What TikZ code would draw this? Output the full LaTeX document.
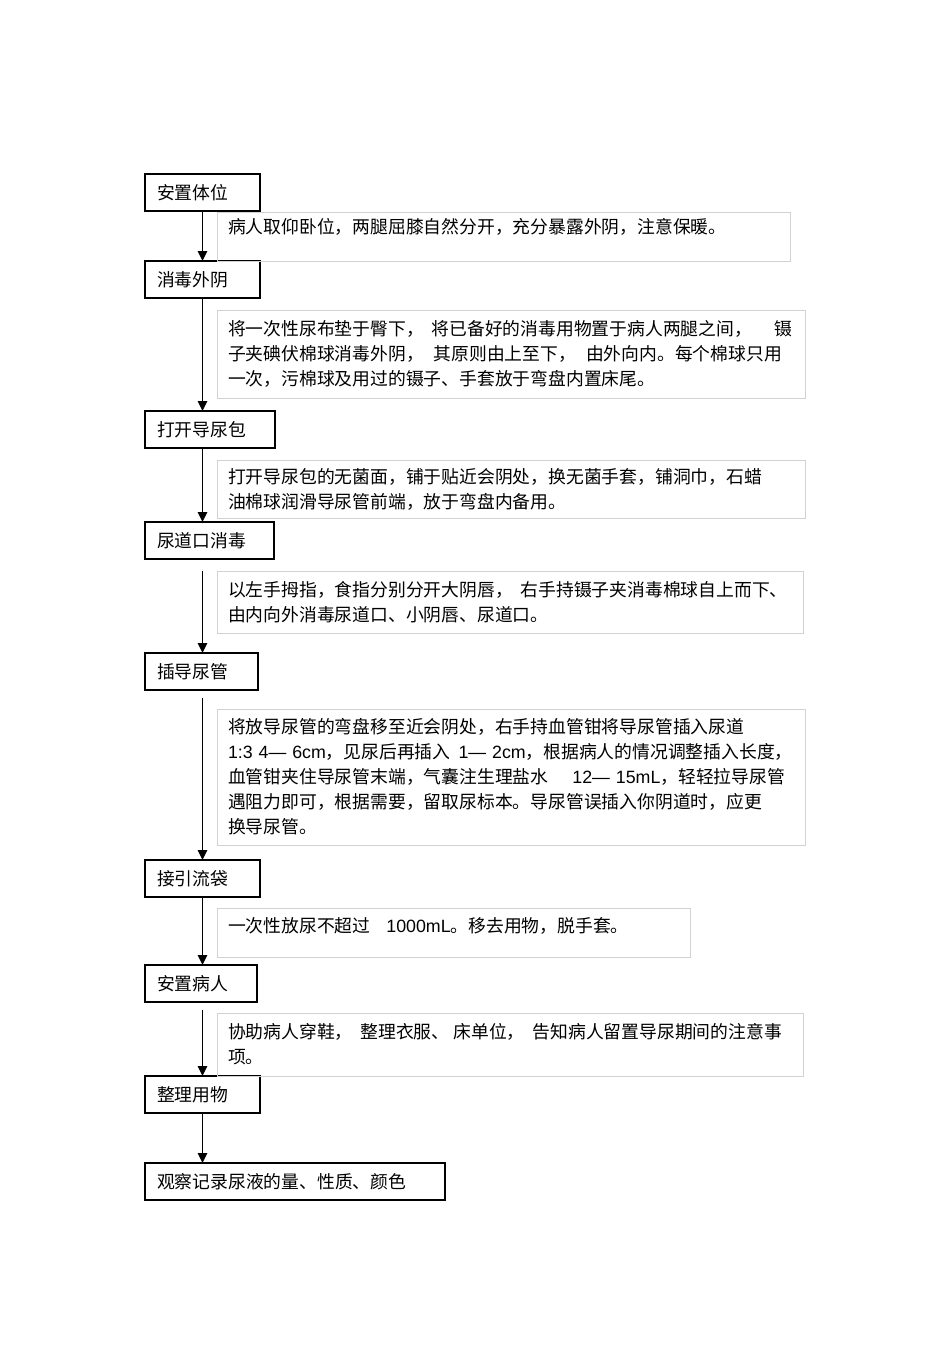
\documentclass[tikz,border=0pt]{standalone}
\usepackage{fontspec}
\setmainfont{Noto Sans CJK SC}
\newfontfamily\latinfont{Liberation Sans}
\newcommand{\lt}[1]{{\latinfont #1}}
\newcommand{\gp}[1]{\hspace*{#1pt}}
\usetikzlibrary{arrows.meta,shadows}

\begin{document}
\begin{tikzpicture}[
    x=1pt, y=-1pt,
    every node/.style={font=\fontsize{17.8}{25}\selectfont, outer sep=0pt},
    stepbox/.style={draw, fill=white, line width=1.2pt, anchor=north west, minimum height=37pt, inner xsep=12pt, text width=#1, align=left},
    boldstep/.style={drop shadow={shadow xshift=1.3pt, shadow yshift=-1.3pt, fill=black, opacity=1}},
    notebox/.style={draw=gray!35, line width=0.8pt, anchor=north west, inner xsep=11pt, text width=#1, align=left},
    flow/.style={-{Triangle[length=10pt, width=9.5pt]}, line width=1.3pt}
]
    \useasboundingbox (0,0) rectangle (950,1345);

    % Steps
    \node[stepbox=91pt, boldstep] (s1) at (145,174) {安置体位};
    \node[stepbox=91pt] (s2) at (145,261) {消毒外阴};
    \node[stepbox=106pt] (s3) at (145,411) {打开导尿包};
    \node[stepbox=105pt] (s4) at (145,522) {尿道口消毒};
    \node[stepbox=89pt] (s5) at (145,653) {插导尿管};
    \node[stepbox=91pt] (s6) at (145,860) {接引流袋};
    \node[stepbox=88pt] (s7) at (145,965) {安置病人};
    \node[stepbox=91pt, boldstep] (s8) at (145,1076) {整理用物};
    \node[stepbox=276pt] (s9) at (145,1163) {观察记录尿液的量、性质、颜色};

    % Notes
    \node[notebox=551pt, minimum height=49pt, text depth=21pt] (n1) at (217,212)
        {病人取仰卧位，两腿屈膝自然分开，充分暴露外阴，注意保暖。};
    \node[notebox=566pt, minimum height=88pt] (n2) at (217,310)
        {将一次性尿布垫于臀下，\gp{8}将已备好的消毒用物置于病人两腿之间，\gp{22}镊\\
         子夹碘伏棉球消毒外阴，\gp{10}其原则由上至下，\gp{10}由外向内。每个棉球只用\\
         一次，污棉球及用过的镊子、手套放于弯盘内置床尾。};
    \node[notebox=566pt, minimum height=58pt] (n3) at (217,460)
        {打开导尿包的无菌面，铺于贴近会阴处，换无菌手套，铺洞巾，石蜡\\
         油棉球润滑导尿管前端，放于弯盘内备用。};
    \node[notebox=564pt, minimum height=62pt] (n4) at (217,571)
        {以左手拇指，食指分别分开大阴唇，\gp{8}右手持镊子夹消毒棉球自上而下、\\
         由内向外消毒尿道口、小阴唇、尿道口。};
    \node[notebox=566pt, minimum height=136pt] (n5) at (217,709)
        {将放导尿管的弯盘移至近会阴处，右手持血管钳将导尿管插入尿道\\
         \lt{1:3 4— 6cm}，见尿后再插入\gp{8}\lt{1— 2cm}，根据病人的情况调整插入长度，\\
         血管钳夹住导尿管末端，气囊注生理盐水\gp{24}\lt{12— 15mL}，轻轻拉导尿管\\
         遇阻力即可，根据需要，留取尿标本。导尿管误插入你阴道时，应更\\
         换导尿管。};
    \node[notebox=451pt, minimum height=49pt, text depth=15pt] (n6) at (217,908)
        {一次性放尿不超过\gp{16}\lt{1000mL}。移去用物，脱手套。};
    \node[notebox=564pt, minimum height=63pt] (n7) at (217,1013)
        {协助病人穿鞋，\gp{8}整理衣服、\gp{4}床单位，\gp{8}告知病人留置导尿期间的注意事\\
         项。};

    % Flow
    \draw[flow] (s1.south) -- (s2.north -| s1.south);
    \draw[flow] (s2.south -| s1.south) -- (s3.north -| s1.south);
    \draw[flow] (s3.south -| s1.south) -- (s4.north -| s1.south);
    \draw[flow] ([yshift=-12pt]s4.south -| s1.south) -- (s5.north -| s1.south);
    \draw[flow] ([yshift=-8pt]s5.south -| s1.south) -- (s6.north -| s1.south);
    \draw[flow] (s6.south -| s1.south) -- (s7.north -| s1.south);
    \draw[flow] ([yshift=-8pt]s7.south -| s1.south) -- (s8.north -| s1.south);
    \draw[flow] (s8.south -| s1.south) -- (s9.north -| s1.south);
\end{tikzpicture}
\end{document}
